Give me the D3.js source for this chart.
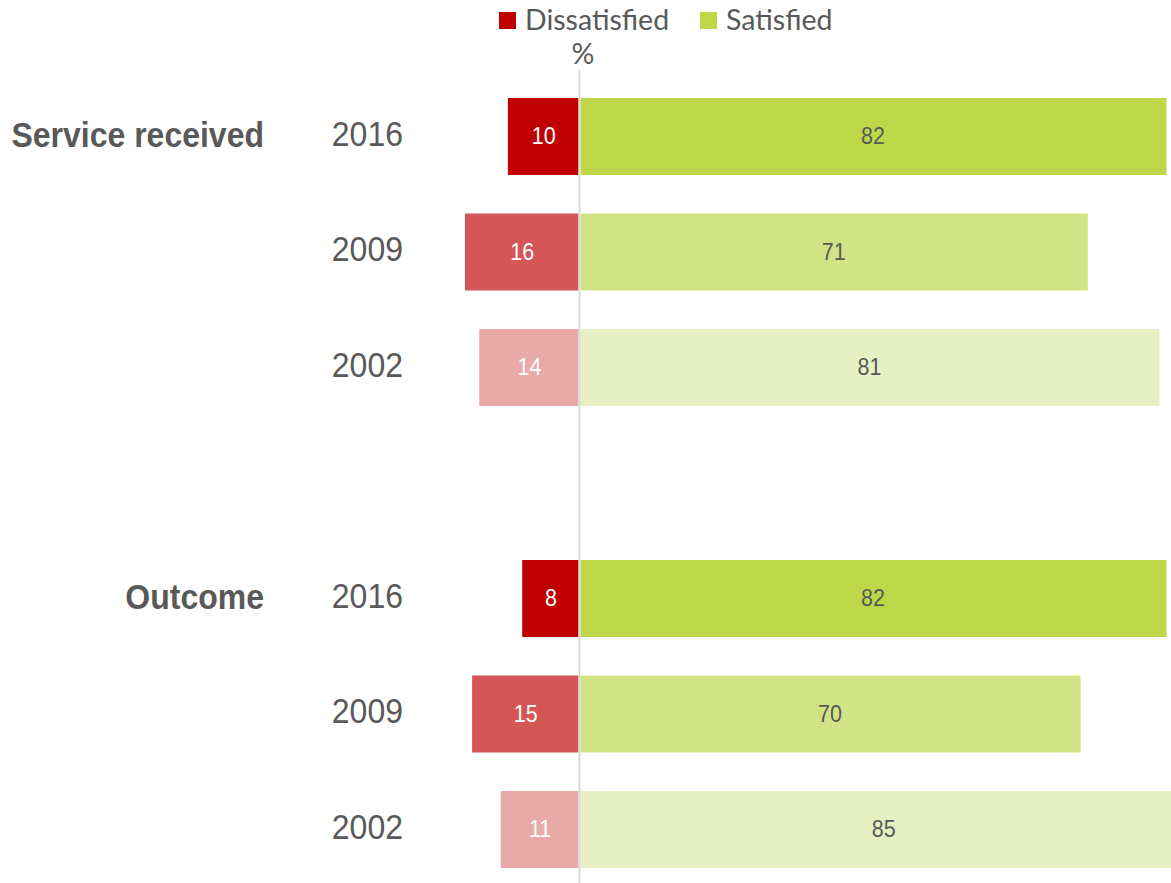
<!DOCTYPE html>
<html>
<head>
<meta charset="utf-8">
<script src="https://cdn.jsdelivr.net/npm/d3@7"></script>
<style>
  html, body { margin: 0; padding: 0; background: #fff; }
  svg { display: block; }
</style>
</head>
<body>
<svg id="chart" width="1171" height="883"></svg>
<script>
// Satisfaction with service received and with outcome, by survey year (%)
const groups = ["Service received", "Outcome"];
const years = ["2016", "2009", "2002"];
const dissatisfied = [[10, 16, 14], [8, 15, 11]];
const satisfied = [[82, 71, 81], [82, 70, 85]];
const legendLabels = ["Dissatisfied", "Satisfied"];

// Shades by year, darkest for the latest survey
const redShades = ["#C00000", "#D55656", "#E8A9A9"];
const greenShades = ["#BDD748", "#D1E384", "#E6F0C2"];

const svg = d3.select("#chart");
const textColor = "#595959";

// Rows: three years per group with an empty slot between groups
const rows = [];
groups.forEach((g, gi) => {
  years.forEach((y, yi) => {
    rows.push({ key: g + "|" + y, group: g, year: y, gi, yi,
      dis: dissatisfied[gi][yi], sat: satisfied[gi][yi] });
  });
  if (gi < groups.length - 1) rows.push({ key: "gap" + gi, gap: true });
});

const y = d3.scaleBand()
  .domain(rows.map(r => r.key))
  .range([78.75, 887.25])
  .paddingInner(1 / 3)
  .paddingOuter(1 / 6);

const x = d3.scaleLinear().domain([0, 82]).range([579.5, 1166.5]);

const data = rows.filter(r => !r.gap);

// Dissatisfied bars extend left of zero
svg.append("g").selectAll("rect").data(data).join("rect")
  .attr("x", d => x(-d.dis))
  .attr("y", d => y(d.key))
  .attr("width", d => x(0) - 1 - x(-d.dis))
  .attr("height", y.bandwidth())
  .attr("fill", d => redShades[d.yi]);

// Satisfied bars extend right of zero
svg.append("g").selectAll("rect").data(data).join("rect")
  .attr("x", x(0) + 1)
  .attr("y", d => y(d.key))
  .attr("width", d => x(d.sat) - x(0) - 1)
  .attr("height", y.bandwidth())
  .attr("fill", d => greenShades[d.yi]);

// Zero line
svg.append("line")
  .attr("x1", x(0)).attr("x2", x(0))
  .attr("y1", 70).attr("y2", 883)
  .attr("stroke", "#D9D9D9").attr("stroke-width", 2);

// Text helper with a slight vertical stretch
function label(parent, tx, ty, str, opts) {
  const g = parent.append("g").attr("transform", `translate(${tx},${ty}) scale(1,1.1)`);
  const t = g.append("text")
    .attr("text-anchor", opts.anchor || "middle")
    .attr("dominant-baseline", "central")
    .attr("font-family", opts.family || "'Liberation Sans', Arial, sans-serif")
    .attr("font-size", opts.size)
    .attr("font-weight", opts.weight || "normal")
    .attr("fill", opts.fill || textColor)
    .text(str);
  return t;
}

const labels = svg.append("g");

// Value labels
data.forEach(d => {
  const cy = y(d.key) + y.bandwidth() / 2;
  label(labels, (x(-d.dis) + x(0)) / 2, cy, d.dis, { size: 21.5, fill: "#fff" });
  label(labels, (x(0) + x(d.sat)) / 2, cy, d.sat, { size: 21.5, fill: textColor });
});

// Year labels
data.forEach(d => {
  const cy = y(d.key) + y.bandwidth() / 2 - 3;
  label(labels, 403, cy, d.year, { size: 32, anchor: "end" });
});

// Group labels beside the first row of each group
groups.forEach((g, gi) => {
  const first = data.find(d => d.gi === gi);
  const cy = y(first.key) + y.bandwidth() / 2 - 2;
  label(labels, 264, cy, g, { size: 32, anchor: "end", weight: "bold" });
});

// Legend
const legend = svg.append("g");
const legendX = [499, 700];
const legendColors = [redShades[0], greenShades[0]];
legendLabels.forEach((t, i) => {
  legend.append("rect")
    .attr("x", legendX[i]).attr("y", 12)
    .attr("width", 17).attr("height", 17)
    .attr("fill", legendColors[i]);
  legend.append("text")
    .attr("x", legendX[i] + 26).attr("y", 30)
    .attr("font-family", "Lato, 'Open Sans', sans-serif")
    .attr("font-size", 28.5)
    .attr("fill", textColor)
    .text(t);
});
legend.append("text")
  .attr("x", 583).attr("y", 64)
  .attr("text-anchor", "middle")
  .attr("font-family", "Lato, 'Open Sans', sans-serif")
  .attr("font-size", 28.5)
  .attr("fill", textColor)
  .text("%");
</script>
</body>
</html>
